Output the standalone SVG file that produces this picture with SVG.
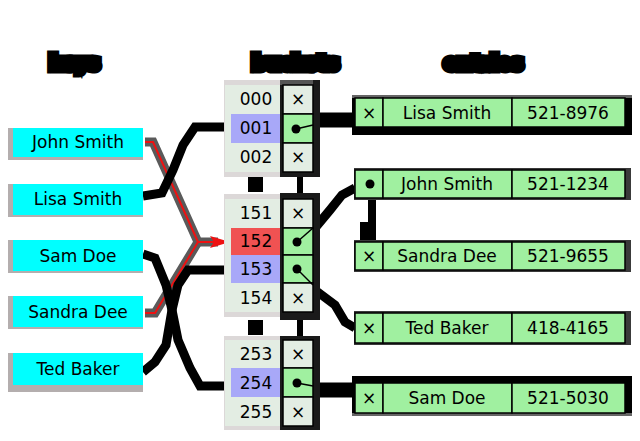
<svg xmlns="http://www.w3.org/2000/svg" width="640" height="441" viewBox="0 0 640 441">
<defs>
<style>
text{font-family:"DejaVu Sans","Liberation Sans",sans-serif;font-size:17px;fill:#000;text-anchor:middle}
.title{font-weight:bold;font-size:18px;stroke:#000;stroke-width:9;stroke-linejoin:miter;letter-spacing:1px}
.key{fill:#00ffff}
.kshadow{fill:#b4aeae}
.idx{fill:#e3ede3}
.cell{fill:#e3ede3;stroke:#000;stroke-width:1.5}
.ptr{fill:#a0f0a0;stroke:#000;stroke-width:1.5}
.ent{fill:#a0f0a0;stroke:#000;stroke-width:1.5}
.dark{fill:#1a1a1a}
.eshadow{fill:#3a3a3a}
.thick{fill:none;stroke:#000;stroke-width:9;stroke-linejoin:miter}
.thin{fill:none;stroke:#000;stroke-width:1.5}
.red{fill:none;stroke:#ee1111;stroke-width:2}
.redsh{fill:none;stroke:#5a5a5a;stroke-width:9}
</style>
<marker id="ah" viewBox="0 0 20 12" refX="20" refY="6" markerWidth="20" markerHeight="12" markerUnits="userSpaceOnUse" orient="auto">
<path d="M0,0 L20,6 L0,12 L4,6 z" fill="#ee1111"/>
</marker>
</defs>
<rect width="640" height="441" fill="#fff"/>

<g id="titles">
<text class="title" x="75" y="69">keys</text>
<text class="title" x="296" y="69">buckets</text>
<text class="title" x="484" y="69">entries</text>
</g>

<g id="connectors">
<!-- red collision lines -->
<path class="redsh" d="M145,142 L153,142 L198,242 L218,242"/>
<path class="redsh" d="M145,313 L155,313 L198,242"/>
<path class="red" d="M145,142 L153,142 L198,242"/>
<path class="red" d="M145,313 L155,313 L198,242"/>
<path class="red" d="M198,242 L230,242" marker-end="url(#ah)"/>
<!-- black key connectors -->
<path class="thick" d="M143,196 L162,193 L173,170 L183,145 L195,127 L228,127"/>
<path class="thick" d="M143,254 L155,258 L166,285 L172,310 L178,340 L190,368 L200,386 L228,386"/>
<path class="thick" d="M143,372 L155,362 L166,345 L172,310 L178,285 L188,270 L228,270"/>
<!-- bucket to entries -->
<path class="thick" d="M318,120 L355,120" style="stroke-width:15"/>
<path class="thick" d="M315,228 L330,210 L342,195 L355,188"/>
<path class="thick" d="M315,290 L335,305 L345,322 L355,328"/>
<path class="thick" d="M318,390 L355,390" style="stroke-width:15"/>
<!-- chain links -->
<rect x="297" y="172" width="6" height="22" fill="#000"/>
<rect x="297" y="316" width="6" height="25" fill="#000"/>
<path class="thin" d="M370,184 L370,200"/>
<rect x="368" y="198" width="8" height="42" fill="#000"/>
<rect x="360" y="222" width="16" height="18" fill="#000"/>
</g>

<g id="keys">
<g id="key-john"><rect class="kshadow" x="8" y="128" width="135" height="32"/><rect class="key" x="13" y="128" width="130" height="29"/><text x="78" y="148">John Smith</text></g>
<g id="key-lisa"><rect class="kshadow" x="8" y="184" width="135" height="33"/><rect class="key" x="13" y="184" width="130" height="31"/><text x="78" y="205">Lisa Smith</text></g>
<g id="key-sam"><rect class="kshadow" x="8" y="240" width="135" height="33"/><rect class="key" x="13" y="240" width="130" height="31"/><text x="78" y="262">Sam Doe</text></g>
<g id="key-sandra"><rect class="kshadow" x="8" y="296" width="135" height="33"/><rect class="key" x="13" y="296" width="130" height="31"/><text x="78" y="318">Sandra Dee</text></g>
<g id="key-ted"><rect class="kshadow" x="8" y="353" width="135" height="39"/><rect class="key" x="13" y="353" width="130" height="32"/><text x="78" y="375">Ted Baker</text></g>
</g>

<g id="bucket-group-1">
<rect x="224" y="80" width="60" height="97" fill="#dcd8d8"/>
<rect class="idx" x="225" y="85" width="58" height="87"/>
<rect fill="#a8a8f8" x="231" y="114" width="52" height="29"/>
<rect x="280" y="80" width="40" height="97" class="dark"/>
<rect x="280" y="80" width="33" height="5" fill="#555"/>
<rect class="cell" x="283" y="85" width="30" height="29"/>
<rect class="ptr" x="283" y="114" width="30" height="29"/>
<rect class="cell" x="283" y="143" width="30" height="29"/>
<text x="256" y="105">000</text><text x="256" y="134">001</text><text x="256" y="163">002</text>
<text x="298" y="105">×</text><text x="298" y="163">×</text>
<circle cx="296" cy="129" r="4.5"/><path class="thin" d="M296,129 L313,125"/>
</g>

<rect x="248" y="177" width="15" height="15" fill="#000"/>

<g id="bucket-group-2">
<rect x="224" y="194" width="60" height="123" fill="#dcd8d8"/>
<rect class="idx" x="225" y="199" width="58" height="113"/>
<rect fill="#f05252" x="231" y="228" width="52" height="27"/>
<rect fill="#a8a8f8" x="231" y="255" width="52" height="28"/>
<rect x="280" y="193" width="40" height="127" class="dark"/>
<rect class="cell" x="283" y="199" width="30" height="29"/>
<rect class="ptr" x="283" y="228" width="30" height="27"/>
<rect class="ptr" x="283" y="255" width="30" height="28"/>
<rect class="cell" x="283" y="283" width="30" height="29"/>
<text x="256" y="219">151</text><text x="256" y="247">152</text><text x="256" y="275">153</text><text x="256" y="304">154</text>
<text x="298" y="219">×</text><text x="298" y="304">×</text>
<circle cx="297" cy="242" r="4.5"/><path class="thin" d="M297,242 L313,228"/>
<circle cx="297" cy="269" r="4.5"/><path class="thin" d="M297,269 L313,285"/>
</g>

<rect x="248" y="320" width="15" height="15" fill="#000"/>

<g id="bucket-group-3">
<rect x="224" y="336" width="60" height="94" fill="#dcd8d8"/>
<rect class="idx" x="225" y="340" width="58" height="86"/>
<rect fill="#a8a8f8" x="231" y="368" width="52" height="29"/>
<rect x="280" y="336" width="40" height="94" class="dark"/>
<rect class="cell" x="283" y="340" width="30" height="28"/>
<rect class="ptr" x="283" y="368" width="30" height="29"/>
<rect class="cell" x="283" y="397" width="30" height="29"/>
<text x="256" y="360">253</text><text x="256" y="389">254</text><text x="256" y="418">255</text>
<text x="298" y="360">×</text><text x="298" y="418">×</text>
<circle cx="297" cy="383" r="4.5"/><path class="thin" d="M297,383 L313,386"/>
</g>

<g id="entry-lisa">
<rect x="352" y="95" width="280" height="40" fill="#000"/>
<rect x="352" y="95" width="280" height="3" fill="#666"/>
<rect class="ent" x="355" y="98" width="28" height="29"/><rect class="ent" x="383" y="98" width="129" height="29"/><rect class="ent" x="512" y="98" width="113" height="29"/>
<text x="369" y="119">×</text><text x="447" y="119">Lisa Smith</text><text x="568" y="119">521-8976</text>
</g>
<g id="entry-john">
<rect class="eshadow" x="354" y="168" width="277" height="32"/>
<rect class="ent" x="355" y="170" width="28" height="28"/><rect class="ent" x="383" y="170" width="129" height="28"/><rect class="ent" x="512" y="170" width="113" height="28"/>
<text x="447" y="190">John Smith</text><text x="568" y="190">521-1234</text>
<circle cx="370" cy="184" r="4.5"/>
</g>
<g id="entry-sandra">
<rect class="eshadow" x="354" y="240" width="277" height="32"/>
<rect class="ent" x="355" y="242" width="28" height="28"/><rect class="ent" x="383" y="242" width="129" height="28"/><rect class="ent" x="512" y="242" width="113" height="28"/>
<text x="369" y="262">×</text><text x="447" y="262">Sandra Dee</text><text x="568" y="262">521-9655</text>
</g>
<g id="entry-ted">
<rect class="eshadow" x="354" y="311" width="277" height="34"/>
<rect class="ent" x="355" y="313" width="28" height="30"/><rect class="ent" x="383" y="313" width="129" height="30"/><rect class="ent" x="512" y="313" width="113" height="30"/>
<text x="369" y="334">×</text><text x="447" y="334">Ted Baker</text><text x="568" y="334">418-4165</text>
</g>
<g id="entry-sam">
<rect x="352" y="376" width="280" height="40" fill="#000"/>
<rect x="352" y="413" width="280" height="3" fill="#666"/>
<rect class="ent" x="355" y="383" width="28" height="30"/><rect class="ent" x="383" y="383" width="129" height="30"/><rect class="ent" x="512" y="383" width="113" height="30"/>
<text x="369" y="404">×</text><text x="447" y="404">Sam Doe</text><text x="568" y="404">521-5030</text>
</g>
</svg>
